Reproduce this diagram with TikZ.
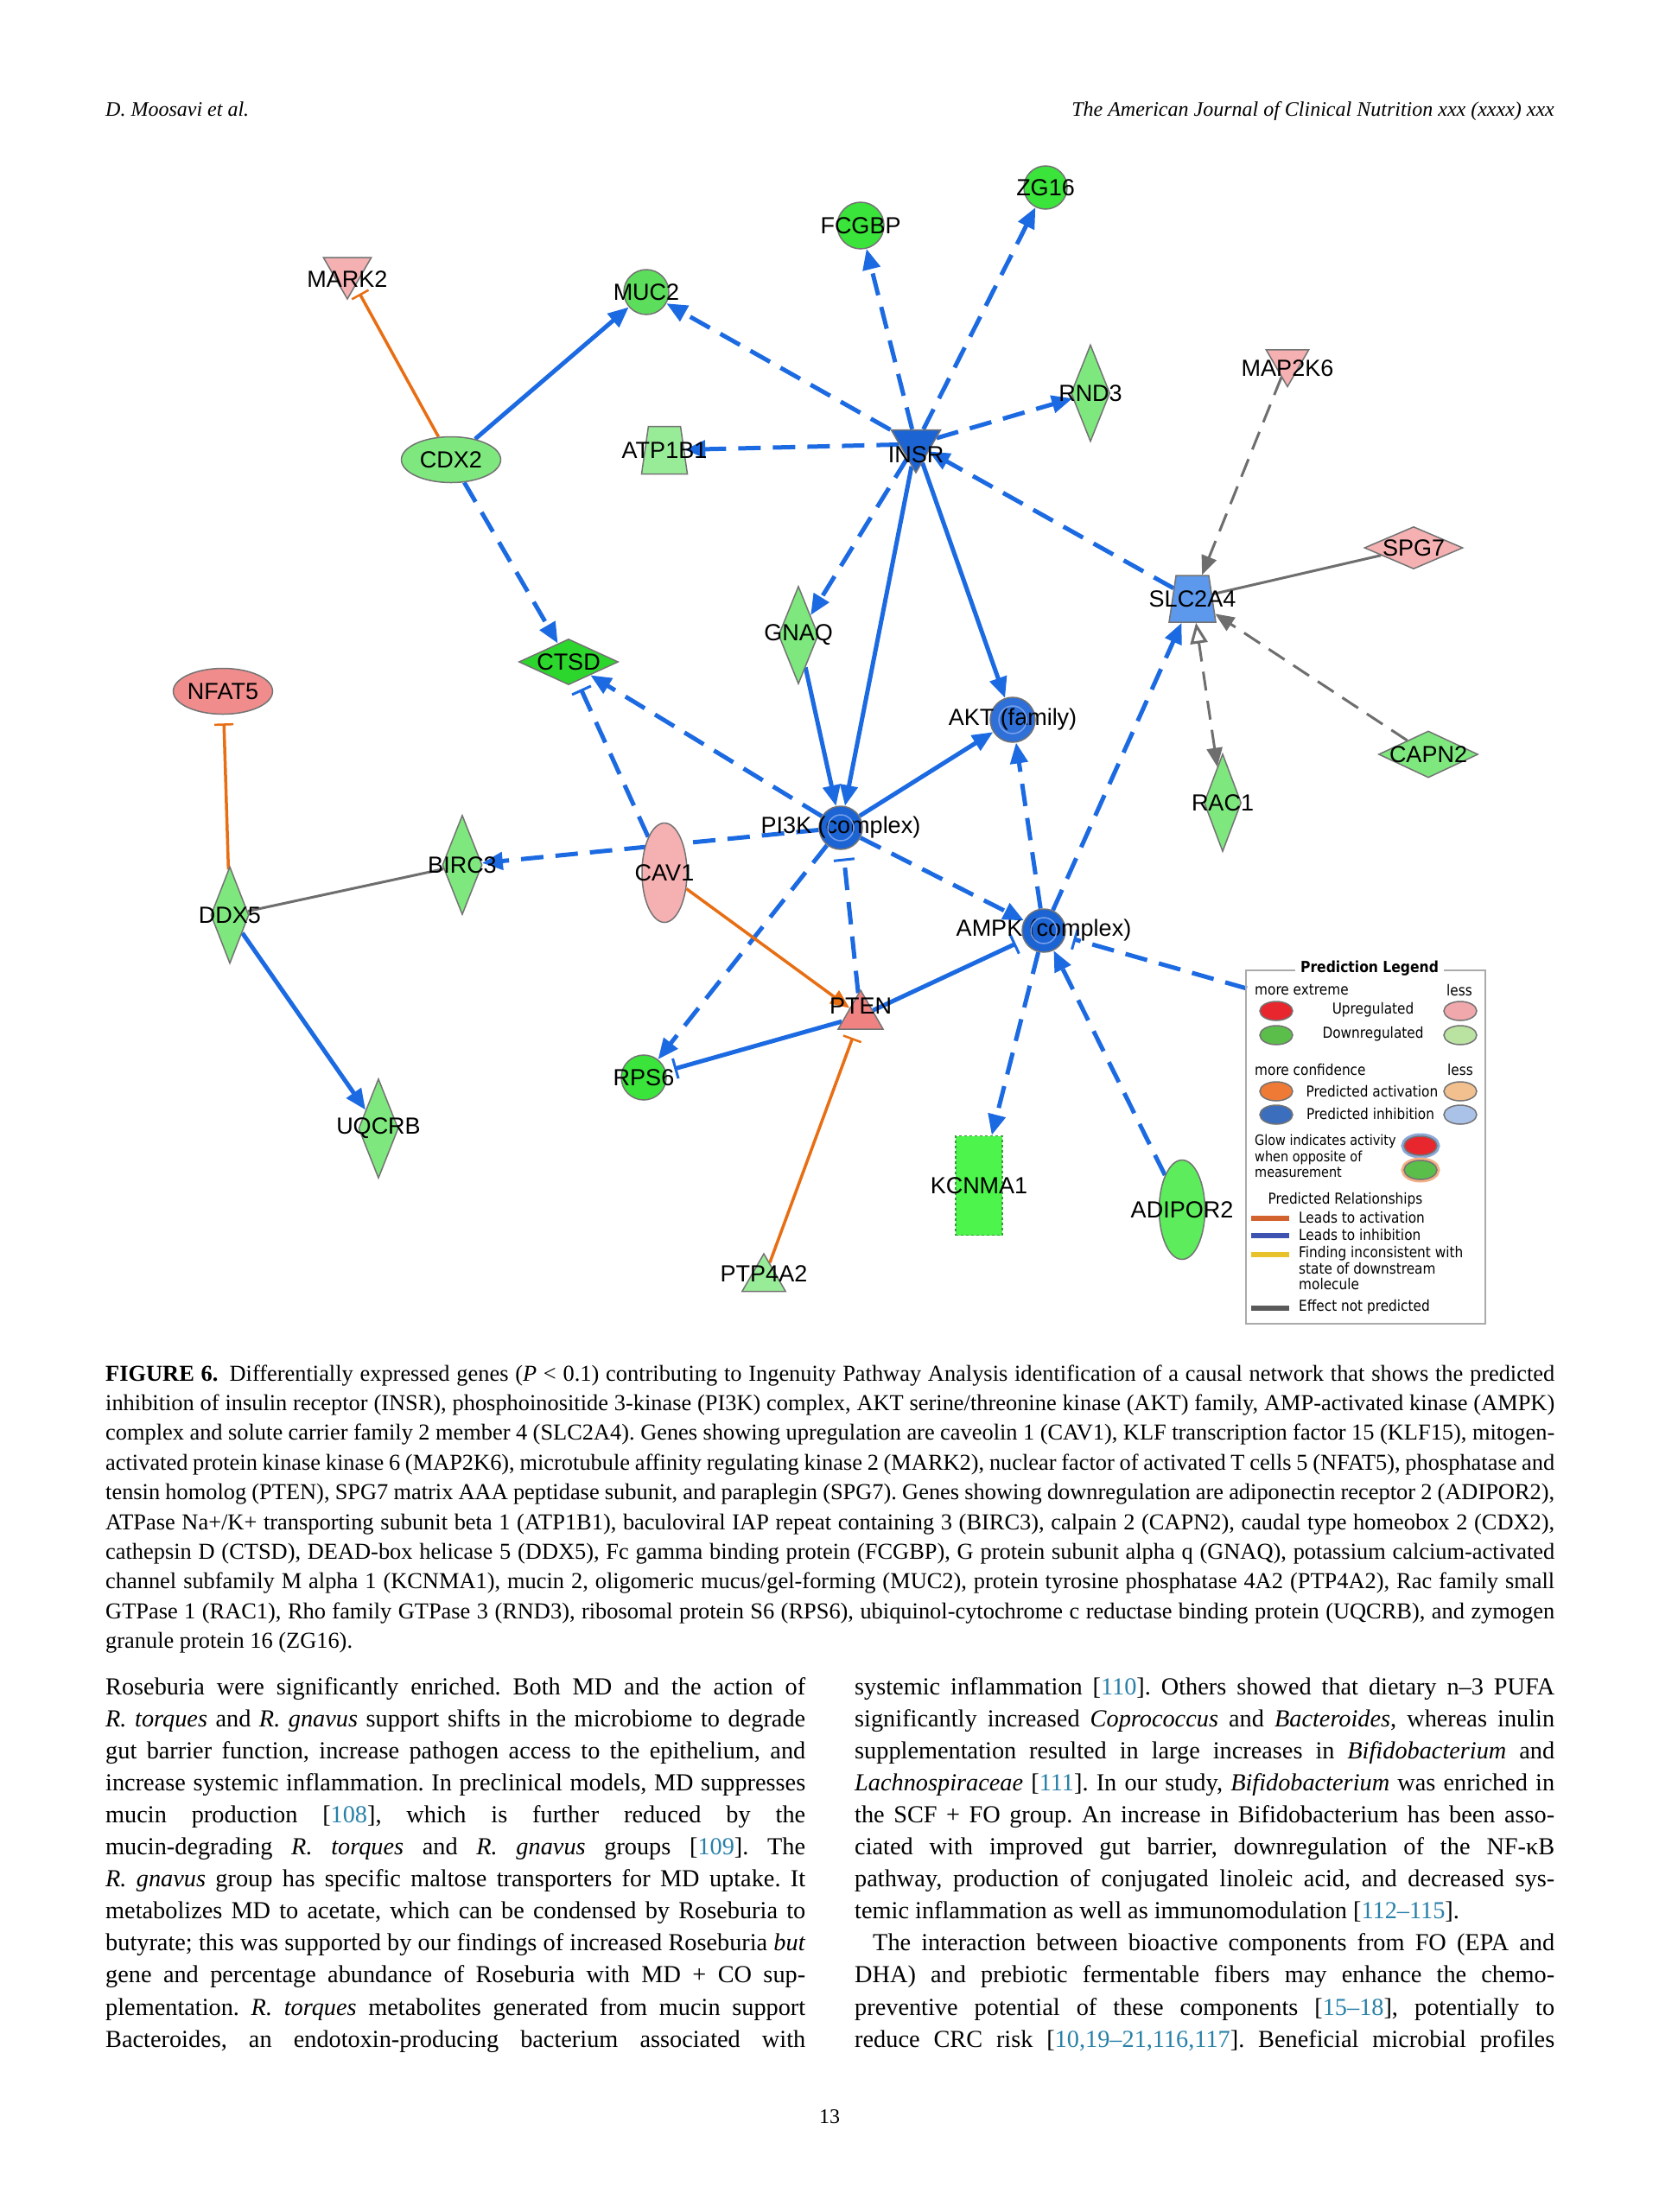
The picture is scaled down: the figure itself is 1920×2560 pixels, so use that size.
\documentclass[tikz,border=0pt]{standalone}
\usepackage{fontspec}
\setmainfont{Liberation Serif}
\newfontfamily\genefont{Liberation Sans}
\newfontfamily\legfont[FakeStretch=0.88]{DejaVu Sans}
\usetikzlibrary{shapes.geometric,arrows.meta}
\frenchspacing

\definecolor{ipablue}{RGB}{28,106,226}
\definecolor{ipaorange}{RGB}{232,110,20}
\definecolor{ipagrey}{RGB}{110,110,110}
\definecolor{nodeline}{RGB}{115,115,115}
\definecolor{dngreen}{RGB}{58,228,58}
\definecolor{mucgreen}{RGB}{92,222,92}
\definecolor{ltgreen}{RGB}{126,232,126}
\definecolor{pagreen}{RGB}{152,236,152}
\definecolor{ctsdgreen}{RGB}{44,214,44}
\definecolor{kcgreen}{RGB}{76,244,76}
\definecolor{kcline}{RGB}{60,150,60}
\definecolor{adgreen}{RGB}{92,236,92}
\definecolor{uppink}{RGB}{245,176,178}
\definecolor{nfpink}{RGB}{240,140,140}
\definecolor{ptenred}{RGB}{240,130,130}
\definecolor{inhblue}{RGB}{28,100,212}
\definecolor{aktblue}{RGB}{46,112,216}
\definecolor{slcblue}{RGB}{92,152,236}
\definecolor{ringblue}{RGB}{120,160,235}
\definecolor{citeblue}{RGB}{40,128,168}
\definecolor{lgred}{RGB}{232,38,46}
\definecolor{lgpink}{RGB}{240,168,172}
\definecolor{lggreen}{RGB}{92,190,74}
\definecolor{lglgreen}{RGB}{186,226,160}
\definecolor{lgorange}{RGB}{238,122,54}
\definecolor{lglorange}{RGB}{242,192,142}
\definecolor{lgblue}{RGB}{60,110,190}
\definecolor{lglblue}{RGB}{170,194,232}
\definecolor{relorange}{RGB}{210,98,46}
\definecolor{relblue}{RGB}{62,82,176}
\definecolor{relyellow}{RGB}{232,194,42}
\definecolor{relgrey}{RGB}{90,90,90}
\definecolor{legframe}{RGB}{170,170,170}

\pgfdeclarelayer{paper}
\pgfdeclarelayer{edges}
\pgfsetlayers{paper,edges,main}

\newcommand\jl[1]{\hbox to\hsize{#1}}
\newcommand\cit[1]{\textcolor{citeblue}{#1}}

\tikzset{
	gene/.style={draw=nodeline, line width=1.5pt, inner sep=0pt},
	lbl/.style={font=\genefont\fontsize{27}{27}\selectfont, inner sep=0pt},
	dntri/.style={regular polygon, regular polygon sides=3, shape border rotate=180},
	uptri/.style={regular polygon, regular polygon sides=3},
	trap/.style={trapezium, trapezium stretches, trapezium left angle=78, trapezium right angle=78, inner sep=3pt},
	ring/.style={draw=ringblue, line width=1.5pt},
	bact/.style={draw=ipablue, line width=5pt, -{Triangle[length=24pt,width=20pt]}},
	bactd/.style={bact, dash pattern=on 26pt off 14pt},
	binh/.style={draw=ipablue, line width=5pt, -{Bar[width=24pt,line width=3pt]}, shorten >=10pt},
	binhd/.style={binh, dash pattern=on 26pt off 14pt},
	oact/.style={draw=ipaorange, line width=3.5pt, -{Triangle[length=22pt,width=18pt]}},
	oinh/.style={draw=ipaorange, line width=3.5pt, -{Bar[width=22pt,line width=2.5pt]}, shorten >=10pt},
	gsol/.style={draw=ipagrey, line width=3pt},
	gdsh/.style={gsol, dash pattern=on 22pt off 12pt, -{Triangle[length=22pt,width=18pt]}},
	legtxt/.style={font=\legfont\fontsize{17.4}{18.6}\selectfont, inner sep=0pt},
	legdot/.style={ellipse, draw=black!55, line width=1.5pt, minimum width=38pt, minimum height=22pt, inner sep=0pt},
	legbar/.style={line width=6pt},
	hdtxt/.style={font=\fontsize{24}{24}\selectfont\itshape, inner sep=0pt}
}

\begin{document}
\begin{tikzpicture}[x=1pt,y=-1pt]
	\useasboundingbox (0,0) rectangle (1920,2560);
	\begin{pgfonlayer}{paper}
		\fill[white] (0,0) rectangle (1920,2560);
	\end{pgfonlayer}
	\node[hdtxt, anchor=base west] (hdleft) at (122,134) {D. Moosavi et al.};
	\node[hdtxt, anchor=base east] (hdright) at (1799,134) {The American Journal of Clinical Nutrition xxx (xxxx) xxx};

	\node[gene, circle, minimum size=50pt, fill=dngreen, label={[lbl]center:ZG16}] (zg16) at (1210,217) {};
	\node[gene, circle, minimum size=54pt, fill=dngreen, label={[lbl]center:FCGBP}] (fcgbp) at (996,261) {};
	\node[gene, dntri, minimum size=64pt, fill=uppink, label={[lbl,yshift=-9pt]center:MARK2}] (mark2) at (402,314) {};
	\node[gene, circle, minimum size=52pt, fill=mucgreen, label={[lbl]center:MUC2}] (muc2) at (748,338) {};
	\node[gene, diamond, minimum width=45pt, minimum height=112pt, fill=ltgreen, label={[lbl]center:RND3}] (rnd3) at (1262,455) {};
	\node[gene, dntri, minimum size=57pt, fill=uppink, label={[lbl,yshift=-7pt]center:MAP2K6}] (map2k6) at (1490,419) {};
	\node[gene, ellipse, minimum width=115pt, minimum height=53pt, fill=ltgreen, label={[lbl]center:CDX2}] (cdx2) at (522,532) {};
	\node[gene, trap, minimum width=53pt, minimum height=55pt, fill=pagreen, label={[lbl]center:ATP1B1}] (atp1b1) at (769,521) {};
	\node[gene, dntri, minimum size=66pt, fill=inhblue, label={[lbl,yshift=-12pt]center:INSR}] (insr) at (1060,514) {};
	\node[gene, diamond, minimum width=114pt, minimum height=49pt, fill=uppink, label={[lbl]center:SPG7}] (spg7) at (1636,634) {};
	\node[gene, trap, minimum width=54pt, minimum height=54pt, fill=slcblue, label={[lbl]center:SLC2A4}] (slc2a4) at (1380,693) {};
	\node[gene, diamond, minimum width=46pt, minimum height=113pt, fill=ltgreen, label={[lbl]center:GNAQ}] (gnaq) at (924,735) {};
	\node[gene, diamond, minimum width=115pt, minimum height=53pt, fill=ctsdgreen, label={[lbl]center:CTSD}] (ctsd) at (658,766) {};
	\node[gene, ellipse, minimum width=115pt, minimum height=53pt, fill=nfpink, label={[lbl]center:NFAT5}] (nfat5) at (258,800) {};
	\node[gene, circle, minimum size=52pt, fill=aktblue, label={[lbl]center:AKT (family)}] (akt) at (1172,833) {};
	\node[gene, diamond, minimum width=115pt, minimum height=54pt, fill=ltgreen, label={[lbl]center:CAPN2}] (capn2) at (1653,873) {};
	\node[gene, diamond, minimum width=43pt, minimum height=113pt, fill=ltgreen, label={[lbl]center:RAC1}] (rac1) at (1415,929) {};
	\node[gene, circle, minimum size=50pt, fill=inhblue, label={[lbl]center:PI3K (complex)}] (pi3k) at (973,958) {};
	\node[gene, diamond, minimum width=46pt, minimum height=115pt, fill=ltgreen, label={[lbl]center:BIRC3}] (birc3) at (535,1001) {};
	\node[gene, ellipse, minimum width=52pt, minimum height=115pt, fill=uppink, label={[lbl]center:CAV1}] (cav1) at (769,1010) {};
	\node[gene, diamond, minimum width=44pt, minimum height=112pt, fill=ltgreen, label={[lbl]center:DDX5}] (ddx5) at (266,1059) {};
	\node[gene, circle, minimum size=50pt, fill=inhblue, label={[lbl]center:AMPK (complex)}] (ampk) at (1208,1077) {};
	\node[gene, uptri, minimum size=60pt, fill=ptenred, label={[lbl,yshift=12pt]center:PTEN}] (pten) at (996,1176) {};
	\node[gene, circle, minimum size=52pt, fill=dngreen, label={[lbl]center:RPS6}] (rps6) at (745,1247) {};
	\node[gene, diamond, minimum width=46pt, minimum height=115pt, fill=ltgreen, label={[lbl]center:UQCRB}] (uqcrb) at (438,1306) {};
	\node[gene, rectangle, draw=kcline, dashed, minimum width=54pt, minimum height=115pt, fill=kcgreen, label={[lbl]center:KCNMA1}] (kcnma1) at (1133,1372) {};
	\node[gene, ellipse, minimum width=53pt, minimum height=115pt, fill=adgreen, label={[lbl]center:ADIPOR2}] (adipor2) at (1368,1400) {};
	\node[gene, uptri, minimum size=58pt, fill=pagreen, label={[lbl,yshift=6pt]center:PTP4A2}] (ptp4a2) at (884,1480) {};
	\draw[ring] (pi3k.center) circle[radius=15pt];
	\draw[ring] (akt.center) circle[radius=16pt];
	\draw[ring] (ampk.center) circle[radius=15pt];

	\begin{pgfonlayer}{edges}
		\draw[bact] (cdx2) -- (muc2);
		\draw[bactd] (insr) -- (zg16);
		\draw[bactd] (insr) -- (fcgbp);
		\draw[bactd] (insr) -- (muc2);
		\draw[bactd] (insr) -- (rnd3);
		\draw[bactd] (insr) -- (atp1b1);
		\draw[bactd] (slc2a4) -- (insr);
		\draw[bactd] (insr) -- (gnaq);
		\draw[bact] (insr) -- (pi3k);
		\draw[bact] (insr) -- (akt);
		\draw[bact] (gnaq) -- (pi3k);
		\draw[bact] (pi3k) -- (akt);
		\draw[bactd] (cdx2) -- (ctsd);
		\draw[bactd] (pi3k) -- (ctsd);
		\draw[binhd] (cav1) -- (ctsd);
		\draw[bactd] (pi3k) -- (birc3);
		\draw[bactd] (pi3k) -- (rps6);
		\draw[binhd] (pten) -- (pi3k);
		\draw[bactd] (pi3k) -- (ampk);
		\draw[bactd] (ampk) -- (akt);
		\draw[bactd] (ampk) -- (slc2a4);
		\draw[bactd] (ampk) -- (kcnma1);
		\draw[bactd] (adipor2) -- (ampk);
		\coordinate (klfend) at (1443,1144);
		\draw[binhd] (klfend) -- (ampk);
		\draw[binh] (pten) -- (rps6);
		\draw[binh] (pten) -- (ampk);
		\draw[bact] (ddx5) -- (uqcrb);
		\draw[oinh] (cdx2) -- (mark2);
		\draw[oinh] (ddx5) -- (nfat5);
		\draw[oact] (cav1) -- (pten);
		\draw[oinh] (ptp4a2) -- (pten);
		\draw[gdsh] (map2k6) -- (slc2a4);
		\draw[gsol] (spg7) -- (slc2a4);
		\draw[gdsh] (capn2) -- (slc2a4);
		\draw[gdsh, {Triangle[open,fill=white,length=24pt,width=20pt]}-{Triangle[length=22pt,width=18pt]}] (slc2a4) -- (rac1);
		\draw[gsol] (ddx5) -- (birc3);
	\end{pgfonlayer}

	\draw[draw=legframe, line width=2pt] (1442,1123) rectangle (1719,1532);
	\node[legtxt, fill=white, inner xsep=6pt, inner ysep=2pt, font=\legfont\bfseries\fontsize{17.7}{18.6}\selectfont] (lgtitle) at (1585,1121) {Prediction Legend};
	\node[legtxt, anchor=west] (lgmore) at (1452,1145) {more extreme};
	\node[legtxt] (lgless) at (1689,1146) {less};
	\node[legdot, fill=lgred] (lgred) at (1477,1170) {};
	\node[legtxt] (lgup) at (1589,1169) {Upregulated};
	\node[legdot, fill=lgpink] (lgpink) at (1690,1170) {};
	\node[legdot, fill=lggreen] (lggreen) at (1477,1198) {};
	\node[legtxt] (lgdown) at (1589,1197) {Downregulated};
	\node[legdot, fill=lglgreen] (lglgreen) at (1690,1198) {};
	\node[legtxt, anchor=west] (lgconf) at (1452,1238) {more confidence};
	\node[legtxt] (lglessb) at (1690,1238) {less};
	\node[legdot, fill=lgorange] (lgorange) at (1477,1263) {};
	\node[legtxt] (lgact) at (1588,1263) {Predicted activation};
	\node[legdot, fill=lglorange] (lglorange) at (1690,1263) {};
	\node[legdot, fill=lgblue] (lgblue) at (1477,1290) {};
	\node[legtxt] (lginh) at (1586,1289) {Predicted inhibition};
	\node[legdot, fill=lglblue] (lglblue) at (1690,1290) {};
	\node[legtxt, anchor=north west, align=left, font=\legfont\fontsize{16.4}{18.6}\selectfont] (lgglow) at (1452,1313) {Glow indicates activity\\when opposite of\\measurement};
	\node[legdot, fill=lgred, preaction={draw=lgblue!60, line width=7pt}] (lgglowr) at (1644,1326) {};
	\node[legdot, fill=lggreen, preaction={draw=lgorange!60, line width=7pt}] (lgglowg) at (1644,1354) {};
	\node[legtxt] (lgrel) at (1557,1389) {Predicted Relationships};
	\draw[legbar, relorange] (1448,1410) -- (1492,1410);
	\node[legtxt, anchor=west] (lgract) at (1503,1409) {Leads to activation};
	\draw[legbar, relblue] (1448,1430) -- (1492,1430);
	\node[legtxt, anchor=west] (lgrinh) at (1503,1429) {Leads to inhibition};
	\draw[legbar, relyellow] (1448,1452) -- (1492,1452);
	\node[legtxt, anchor=north west, align=left] (lgrinc) at (1503,1442) {Finding inconsistent with\\state of downstream\\molecule};
	\draw[legbar, relgrey] (1448,1514) -- (1492,1514);
	\node[legtxt, anchor=west] (lgrnp) at (1503,1513) {Effect not predicted};

	\node[anchor=base west, inner sep=0pt] (caption) at (122,1598) {\vtop{\hsize=1677pt\fontsize{26.4}{34.4}\selectfont
		\jl{\textbf{FIGURE 6.}\enspace Differentially expressed genes (\textit{P} < 0.1) contributing to Ingenuity Pathway Analysis identification of a causal network that shows the predicted}
		\jl{inhibition of insulin receptor (INSR), phosphoinositide 3-kinase (PI3K) complex, AKT serine/threonine kinase (AKT) family, AMP-activated kinase (AMPK)}
		\jl{complex and solute carrier family 2 member 4 (SLC2A4). Genes showing upregulation are caveolin 1 (CAV1), KLF transcription factor 15 (KLF15), mitogen-}
		\jl{activated protein kinase kinase 6 (MAP2K6), microtubule affinity regulating kinase 2 (MARK2), nuclear factor of activated T cells 5 (NFAT5), phosphatase and}
		\jl{tensin homolog (PTEN), SPG7 matrix AAA peptidase subunit, and paraplegin (SPG7). Genes showing downregulation are adiponectin receptor 2 (ADIPOR2),}
		\jl{ATPase Na+/K+ transporting subunit beta 1 (ATP1B1), baculoviral IAP repeat containing 3 (BIRC3), calpain 2 (CAPN2), caudal type homeobox 2 (CDX2),}
		\jl{cathepsin D (CTSD), DEAD-box helicase 5 (DDX5), Fc gamma binding protein (FCGBP), G protein subunit alpha q (GNAQ), potassium calcium-activated}
		\jl{channel subfamily M alpha 1 (KCNMA1), mucin 2, oligomeric mucus/gel-forming (MUC2), protein tyrosine phosphatase 4A2 (PTP4A2), Rac family small}
		\jl{GTPase 1 (RAC1), Rho family GTPase 3 (RND3), ribosomal protein S6 (RPS6), ubiquinol-cytochrome c reductase binding protein (UQCRB), and zymogen}
		\hbox{granule protein 16 (ZG16).}}};

	\node[anchor=base west, inner sep=0pt] (colleft) at (122,1961) {\vtop{\hsize=810pt\fontsize{28.3}{37.1}\selectfont
		\jl{Roseburia were significantly enriched. Both MD and the action of}
		\jl{\textit{R. torques} and \textit{R. gnavus} support shifts in the microbiome to degrade}
		\jl{gut barrier function, increase pathogen access to the epithelium, and}
		\jl{increase systemic inflammation. In preclinical models, MD suppresses}
		\jl{mucin production [\cit{108}], which is further reduced by the}
		\jl{mucin-degrading \textit{R. torques} and \textit{R. gnavus} groups [\cit{109}]. The}
		\jl{\textit{R. gnavus} group has specific maltose transporters for MD uptake. It}
		\jl{metabolizes MD to acetate, which can be condensed by Roseburia to}
		\jl{butyrate; this was supported by our findings of increased Roseburia \textit{but}}
		\jl{gene and percentage abundance of Roseburia with MD + CO sup-}
		\jl{plementation. \textit{R. torques} metabolites generated from mucin support}
		\jl{Bacteroides, an endotoxin-producing bacterium associated with}}};

	\node[anchor=base west, inner sep=0pt] (colright) at (989,1961) {\vtop{\hsize=810pt\fontsize{28.3}{37.1}\selectfont
		\jl{systemic inflammation [\cit{110}]. Others showed that dietary n--3 PUFA}
		\jl{significantly increased \textit{Coprococcus} and \textit{Bacteroides}, whereas inulin}
		\jl{supplementation resulted in large increases in \textit{Bifidobacterium} and}
		\jl{\textit{Lachnospiraceae} [\cit{111}]. In our study, \textit{Bifidobacterium} was enriched in}
		\jl{the SCF + FO group. An increase in Bifidobacterium has been asso-}
		\jl{ciated with improved gut barrier, downregulation of the NF-κB}
		\jl{pathway, production of conjugated linoleic acid, and decreased sys-}
		\hbox{temic inflammation as well as immunomodulation [\cit{112--115}].}
		\jl{\hspace{21pt}The interaction between bioactive components from FO (EPA and}
		\jl{DHA) and prebiotic fermentable fibers may enhance the chemo-}
		\jl{preventive potential of these components [\cit{15--18}], potentially to}
		\jl{reduce CRC risk [\cit{10,19--21,116,117}]. Beneficial microbial profiles}}};

	\node[anchor=base, inner sep=0pt, font=\fontsize{24}{24}\selectfont] (pageno) at (960,2457) {13};
\end{tikzpicture}
\end{document}
